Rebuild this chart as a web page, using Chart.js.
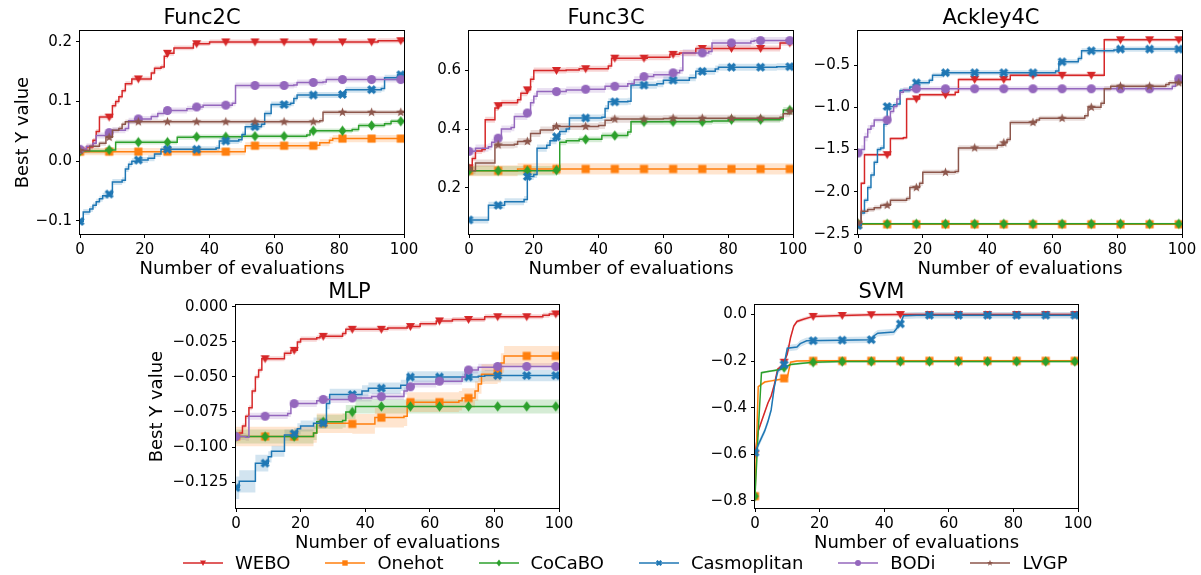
<!DOCTYPE html>
<html>
<head>
<meta charset="utf-8">
<script src="https://cdn.jsdelivr.net/npm/chart.js@4.4.0/dist/chart.umd.min.js"></script>
<style>
  body { margin: 0; background: #fff; width: 1201px; height: 575px; position: relative; overflow: hidden; font-family: "DejaVu Sans", sans-serif; }
  canvas.plot { position: absolute; }
  #legend { position: absolute; left: 183px; top: 551px; display: flex; gap: 35px; font-size: 18px; line-height: 24px; color: #000; }
  .item { display: flex; align-items: center; gap: 12px; }
</style>
</head>
<body>
<canvas id="c0" class="plot"></canvas>
<canvas id="c1" class="plot"></canvas>
<canvas id="c2" class="plot"></canvas>
<canvas id="c3" class="plot"></canvas>
<canvas id="c4" class="plot"></canvas>
<div id="legend"></div>
<script>
// nombres de las series y colores
const seriesNames = ["WEBO", "Onehot", "CoCaBO", "Casmoplitan", "BODi", "LVGP"];
const seriesColors = ["#d62728", "#ff7f0e", "#2ca02c", "#1f77b4", "#9467bd", "#8c564b"];
const seriesMarkers = ["tri", "square", "diamond", "x", "circle", "star"];

// ticks
const xTicks = [0, 20, 40, 60, 80, 100];
const xTickLabels = ["0", "20", "40", "60", "80", "100"];
const markerX = [0, 9, 18, 27, 36, 45, 54, 63, 72, 81, 90, 99];

const func2cYTicks = [-0.1, 0.0, 0.1, 0.2];
const func2cYLabels = ["\u22120.1", "0.0", "0.1", "0.2"];
const func3cYTicks = [0.2, 0.4, 0.6];
const func3cYLabels = ["0.2", "0.4", "0.6"];
const ackleyYTicks = [-2.5, -2.0, -1.5, -1.0, -0.5];
const ackleyYLabels = ["\u22122.5", "\u22122.0", "\u22121.5", "\u22121.0", "\u22120.5"];
const mlpYTicks = [-0.125, -0.100, -0.075, -0.050, -0.025, 0.000];
const mlpYLabels = ["\u22120.125", "\u22120.100", "\u22120.075", "\u22120.050", "\u22120.025", "0.000"];
const svmYTicks = [-0.8, -0.6, -0.4, -0.2, 0.0];
const svmYLabels = ["\u22120.8", "\u22120.6", "\u22120.4", "\u22120.2", "0.0"];

// Func2C: [evaluación, mejor Y] (cambios de escalón)
const func2cWebo = [[0,0.018],[2,0.024],[4,0.035],[5,0.05],[6,0.074],[10,0.093],[11,0.1],[12,0.108],[13,0.118],[14,0.13],[16,0.138],[22,0.148],[23,0.156],[25,0.158],[26,0.176],[27,0.181],[29,0.19],[35,0.197],[40,0.2],[92,0.202]];
const func2cOnehot = [[0,0.016],[51,0.026],[73,0.027],[74,0.031],[77,0.035],[78,0.038]];
const func2cCocabo = [[0,0.017],[8,0.019],[11,0.032],[30,0.04],[35,0.041],[50,0.042],[70,0.044],[71,0.051],[84,0.053],[86,0.06],[94,0.063],[96,0.067]];
const func2cCasmo = [[0,-0.101],[1,-0.085],[3,-0.08],[4,-0.074],[5,-0.068],[6,-0.063],[7,-0.058],[9,-0.055],[10,-0.035],[13,-0.032],[14,-0.013],[15,-0.005],[16,0],[18,0.002],[21,0.005],[23,0.012],[25,0.02],[42,0.022],[43,0.034],[49,0.036],[50,0.045],[51,0.058],[56,0.062],[57,0.08],[59,0.095],[65,0.097],[66,0.105],[67,0.111],[80,0.112],[82,0.12],[93,0.122],[94,0.14],[98,0.145]];
const func2cBodi = [[0,0.02],[2,0.025],[4,0.03],[5,0.043],[8,0.048],[10,0.052],[14,0.055],[15,0.068],[17,0.071],[22,0.075],[24,0.08],[26,0.085],[33,0.088],[35,0.091],[38,0.094],[47,0.097],[48,0.127],[66,0.128],[67,0.132],[75,0.133],[76,0.137]];
const func2cLvgp = [[0,0.018],[3,0.025],[6,0.03],[8,0.04],[10,0.052],[12,0.055],[13,0.062],[14,0.066],[74,0.068],[75,0.082]];
const func2cBand = [0.004, 0.006, 0.004, 0.005, 0.005, 0.004];

// Func3C
const func3cWebo = [[0,0.268],[1,0.3],[2,0.325],[4,0.33],[5,0.432],[8,0.472],[9,0.48],[10,0.49],[15,0.5],[16,0.522],[18,0.534],[19,0.57],[20,0.6],[30,0.602],[34,0.606],[43,0.615],[44,0.642],[55,0.645],[62,0.655],[65,0.66],[70,0.675],[96,0.694]];
const func3cOnehot = [[0,0.258],[15,0.264]];
const func3cCocabo = [[0,0.258,0.016],[27,0.26,0.016],[28,0.355],[30,0.36],[34,0.365],[41,0.378],[49,0.39],[50,0.425],[75,0.428],[80,0.432],[96,0.435],[97,0.465]];
const func3cCasmo = [[0,0.09],[6,0.14],[11,0.152],[17,0.16],[18,0.238],[20,0.245],[21,0.335],[24,0.345],[25,0.36],[27,0.374],[28,0.392],[30,0.4],[31,0.438],[41,0.44],[42,0.47],[43,0.493],[49,0.495],[50,0.55],[58,0.555],[60,0.567],[68,0.575],[70,0.597],[76,0.605],[77,0.611],[95,0.613]];
const func3cBodi = [[0,0.324],[2,0.335],[6,0.34],[7,0.355],[8,0.369],[10,0.4],[13,0.405],[14,0.443],[18,0.455],[19,0.49],[20,0.512],[21,0.528],[30,0.533],[36,0.536],[42,0.546],[49,0.555],[51,0.568],[53,0.579],[57,0.585],[63,0.592],[65,0.6],[66,0.66],[74,0.665],[75,0.694],[87,0.7],[88,0.702]];
const func3cLvgp = [[0,0.267],[1,0.258],[2,0.284],[8,0.346],[14,0.348],[15,0.358],[19,0.385],[22,0.397],[26,0.409],[40,0.412],[42,0.43],[44,0.434],[60,0.436],[63,0.437],[96,0.44],[97,0.452],[99,0.461]];
const func3cBand = [0.01, 0.019, 0.01, 0.012, 0.012, 0.012];

// Ackley4C
const ackleyWebo = [[0,-2.39],[1,-1.9],[2,-1.56],[10,-1.37],[14,-1.36],[15,-0.9],[19,-0.85],[30,-0.82],[31,-0.67],[47,-0.62],[75,-0.62],[76,-0.2]];
const ackleyOnehot = [[0,-2.385]];
const ackleyCocabo = [[0,-2.38]];
const ackleyCasmo = [[0,-2.4],[1,-2.25],[2,-2.1],[3,-1.95],[4,-1.8],[5,-1.65],[6,-1.5],[7,-1.48],[8,-1.2],[9,-0.99],[11,-0.97],[12,-0.96],[13,-0.8],[16,-0.76],[18,-0.71],[22,-0.68],[23,-0.62],[26,-0.59],[61,-0.57],[62,-0.46],[68,-0.42],[69,-0.33],[79,-0.32],[80,-0.31]];
const ackleyBodi = [[0,-1.54,0.05],[1,-1.5,0.05],[2,-1.35,0.05],[3,-1.26,0.05],[4,-1.22,0.04],[5,-1.15],[9,-1.15],[10,-1.05],[11,-0.99],[12,-0.9],[13,-0.82],[14,-0.79],[17,-0.78],[97,-0.75],[98,-0.66]];
const ackleyLvgp = [[0,-2.37],[1,-2.23],[3,-2.21],[5,-2.19],[7,-2.16],[10,-2.1],[15,-2.08],[16,-1.95],[19,-1.9],[20,-1.77],[30,-1.76],[31,-1.48],[43,-1.45],[45,-1.42],[46,-1.38],[47,-1.18],[55,-1.15],[56,-1.13],[70,-1.1],[71,-1.0],[75,-0.95],[76,-0.78],[78,-0.75],[95,-0.73],[96,-0.71]];
const ackleyBand = [0.02, 0.01, 0.012, 0.03, 0.03, 0.03];

// MLP
const mlpWebo = [[0,-0.0925],[1,-0.09],[2,-0.085],[3,-0.078],[4,-0.072],[5,-0.06],[6,-0.05],[7,-0.045],[8,-0.037],[15,-0.033],[17,-0.031],[19,-0.025],[20,-0.023],[25,-0.022],[26,-0.021],[33,-0.019],[34,-0.016],[47,-0.015],[53,-0.014],[57,-0.012],[62,-0.01],[67,-0.009],[77,-0.007],[95,-0.006],[97,-0.005]];
const mlpOnehot = [[0,-0.0925],[24,-0.09],[25,-0.083],[36,-0.0835],[43,-0.079],[52,-0.078],[53,-0.068],[69,-0.067],[70,-0.065],[74,-0.06],[75,-0.055],[76,-0.048],[81,-0.047],[82,-0.04],[83,-0.035]];
const mlpCocabo = [[0,-0.0925],[24,-0.09],[25,-0.082],[33,-0.081],[34,-0.075],[37,-0.071]];
const mlpCasmo = [[0,-0.129,0.008],[1,-0.1245,0.008],[6,-0.1115,0.006],[10,-0.107],[11,-0.103],[15,-0.0915],[18,-0.0905],[19,-0.087],[20,-0.085],[24,-0.083],[28,-0.069],[29,-0.0625],[39,-0.06],[41,-0.058],[51,-0.056],[53,-0.05],[75,-0.0495],[77,-0.049]];
const mlpBodi = [[0,-0.0925],[3,-0.093],[4,-0.078],[10,-0.0775],[16,-0.076],[17,-0.069],[25,-0.067],[27,-0.066],[35,-0.065],[42,-0.064],[52,-0.06],[53,-0.057],[55,-0.055],[62,-0.053],[70,-0.05],[71,-0.045],[75,-0.043],[80,-0.0425]];
const mlpBand = [0.0018, 0.007, 0.005, 0.004, 0.0025];

// SVM (curvas continuas)
const svmWebo = [[0,-0.6],[1,-0.5],[2,-0.46],[3,-0.42],[4,-0.38],[5,-0.35],[6,-0.3],[7,-0.235],[8,-0.225],[9,-0.205],[10,-0.17],[11,-0.1],[12,-0.05],[13,-0.03],[15,-0.02],[18,-0.008],[27,-0.004],[36,-0.001],[45,0]];
const svmOnehot = [[0,-0.78],[1,-0.31],[2,-0.3],[3,-0.29],[5,-0.285],[8,-0.278],[10,-0.27],[11,-0.205],[13,-0.2],[18,-0.199]];
const svmCocabo = [[0,-0.78],[1,-0.5],[2,-0.25],[4,-0.245],[6,-0.24],[8,-0.235],[9,-0.228],[11,-0.215],[14,-0.21],[18,-0.205],[27,-0.202]];
const svmCasmo = [[0,-0.593],[1,-0.56],[2,-0.53],[3,-0.5],[4,-0.46],[5,-0.41],[6,-0.31],[7,-0.245],[8,-0.23],[9,-0.215],[10,-0.145],[13,-0.14],[14,-0.125],[16,-0.113],[36,-0.108],[37,-0.09],[38,-0.08],[43,-0.075],[45,-0.04],[46,-0.005],[50,-0.003]];
const svmBand = [0.008, 0.005, 0.005, 0.014];

// ---------------------------------------------------------------
Chart.defaults.font.family = "'DejaVu Sans', sans-serif";
Chart.defaults.color = "#000";

function rgba(hex, a) {
  const n = parseInt(hex.slice(1), 16);
  return `rgba(${n >> 16},${(n >> 8) & 255},${n & 255},${a})`;
}

function drawMarker(ctx, style, cx, cy, s, color) {
  const h = s / 2;
  ctx.fillStyle = color;
  ctx.strokeStyle = color;
  ctx.beginPath();
  if (style === "tri") {
    ctx.moveTo(cx - h, cy - h * 0.8);
    ctx.lineTo(cx + h, cy - h * 0.8);
    ctx.lineTo(cx, cy + h);
    ctx.closePath();
    ctx.fill();
  } else if (style === "square") {
    const q = h * 0.9;
    ctx.rect(cx - q, cy - q, q * 2, q * 2);
    ctx.fill();
  } else if (style === "diamond") {
    ctx.moveTo(cx, cy - h * 1.15);
    ctx.lineTo(cx + h * 0.85, cy);
    ctx.lineTo(cx, cy + h * 1.15);
    ctx.lineTo(cx - h * 0.85, cy);
    ctx.closePath();
    ctx.fill();
  } else if (style === "x") {
    const q = h * 0.75;
    ctx.lineWidth = s * 0.38;
    ctx.moveTo(cx - q, cy - q); ctx.lineTo(cx + q, cy + q);
    ctx.moveTo(cx + q, cy - q); ctx.lineTo(cx - q, cy + q);
    ctx.stroke();
  } else if (style === "circle") {
    ctx.arc(cx, cy, h, 0, Math.PI * 2);
    ctx.fill();
  } else if (style === "star") {
    for (let k = 0; k < 10; k++) {
      const r = k % 2 === 0 ? h * 1.1 : h * 0.45;
      const a = -Math.PI / 2 + k * Math.PI / 5;
      const px = cx + r * Math.cos(a), py = cy + r * Math.sin(a);
      if (k === 0) ctx.moveTo(px, py); else ctx.lineTo(px, py);
    }
    ctx.closePath();
    ctx.fill();
  }
}

function markerImage(style, color, s) {
  const c = document.createElement("canvas");
  c.width = c.height = s + 4;
  drawMarker(c.getContext("2d"), style, (s + 4) / 2, (s + 4) / 2, s, color);
  return c;
}

// valor de la curva en t (escalón o lineal)
function valueAt(pts, t, stepped) {
  let y = pts[0][1];
  for (let i = 0; i < pts.length; i++) {
    if (pts[i][0] > t) {
      if (!stepped && i > 0) {
        const [x0, y0] = pts[i - 1], [x1, y1] = pts[i];
        return y0 + (y1 - y0) * (t - x0) / (x1 - x0);
      }
      break;
    }
    y = pts[i][1];
  }
  return y;
}

const framePlugin = {
  id: "frame",
  afterDatasetsDraw(chart) {
    const { ctx, chartArea: a } = chart;
    ctx.save();
    ctx.strokeStyle = "#000";
    ctx.lineWidth = 1;
    ctx.strokeRect(Math.round(a.left) - 0.5, Math.round(a.top) - 0.5,
                   Math.round(a.right - a.left) + 1, Math.round(a.bottom - a.top) + 1);
    ctx.restore();
  }
};

const panels = [
  { id: "c0", title: "Func2C", area: [80, 31, 404, 234], yw: 80, ymin: -0.122, ymax: 0.218,
    yTicks: func2cYTicks, yLabels: func2cYLabels, yTitlePad: 13, stepped: true,
    series: [func2cWebo, func2cOnehot, func2cCocabo, func2cCasmo, func2cBodi, func2cLvgp], band: func2cBand },
  { id: "c1", title: "Func3C", area: [469, 31, 793, 234], yw: 50, ymin: 0.042, ymax: 0.734,
    yTicks: func3cYTicks, yLabels: func3cYLabels, yTitlePad: null, stepped: true,
    series: [func3cWebo, func3cOnehot, func3cCocabo, func3cCasmo, func3cBodi, func3cLvgp], band: func3cBand },
  { id: "c2", title: "Ackley4C", area: [858, 31, 1182, 234], yw: 58, ymin: -2.5, ymax: -0.098,
    yTicks: ackleyYTicks, yLabels: ackleyYLabels, yTitlePad: null, stepped: true,
    series: [ackleyWebo, ackleyOnehot, ackleyCocabo, ackleyCasmo, ackleyBodi, ackleyLvgp], band: ackleyBand },
  { id: "c3", title: "MLP", area: [236, 305, 559, 508], yw: 96, ymin: -0.1435, ymax: 0.0012,
    yTicks: mlpYTicks, yLabels: mlpYLabels, yTitlePad: 7, stepped: true,
    series: [mlpWebo, mlpOnehot, mlpCocabo, mlpCasmo, mlpBodi], band: mlpBand },
  { id: "c4", title: "SVM", area: [755, 305, 1078, 508], yw: 70, ymin: -0.831, ymax: 0.04,
    yTicks: svmYTicks, yLabels: svmYLabels, yTitlePad: null, stepped: false,
    series: [svmWebo, svmOnehot, svmCocabo, svmCasmo], band: svmBand }
];

const TITLE_H = 31, XAXIS_H = 46, PAD_R = 20;

panels.forEach(p => {
  const [l, t, r, b] = p.area;
  const canvas = document.getElementById(p.id);
  canvas.width = p.yw + (r - l) + PAD_R;
  canvas.height = TITLE_H + (b - t) + XAXIS_H;
  canvas.style.left = (l - p.yw) + "px";
  canvas.style.top = (t - TITLE_H) + "px";

  const datasets = [];
  p.series.forEach((pts, i) => {
    const color = seriesColors[i];
    const e0 = p.band[i];
    const line = pts.map(q => [q[0], q[1]]);
    if (line[line.length - 1][0] < 100) line.push([100, line[line.length - 1][1]]);
    const ext = pts.map(q => q[2] !== undefined ? q[2] : e0);
    ext.push(ext[ext.length - 1]);
    const upper = line.map((q, k) => [q[0], q[1] + ext[k]]);
    const lower = line.map((q, k) => [q[0], q[1] - ext[k]]);
    const marks = markerX.map(x => [x, valueAt(pts, x, p.stepped)]);
    datasets.push({ data: upper, borderWidth: 0, pointRadius: 0, fill: "+1",
      backgroundColor: rgba(color, 0.2), stepped: p.stepped, order: 100 + i });
    datasets.push({ data: lower, borderWidth: 0, pointRadius: 0, fill: false,
      stepped: p.stepped, order: 100 + i });
    datasets.push({ label: seriesNames[i], data: line, borderColor: color, borderWidth: 1.5,
      pointRadius: 0, fill: false, stepped: p.stepped, order: 50 - 2 * i });
    datasets.push({ data: marks, showLine: false, pointStyle: markerImage(seriesMarkers[i], color, 9),
      pointRadius: 5, order: 49 - 2 * i });
  });

  new Chart(canvas.getContext("2d"), {
    type: "line",
    data: { datasets: datasets },
    plugins: [framePlugin],
    options: {
      responsive: false,
      animation: false,
      layout: { padding: { right: PAD_R } },
      plugins: {
        legend: { display: false },
        tooltip: { enabled: false },
        title: { display: true, text: p.title, font: { size: 21, weight: "normal" },
                 padding: { top: 6, bottom: 0 }, color: "#000" }
      },
      scales: {
        x: {
          type: "linear", min: 0, max: 100,
          afterBuildTicks: s => { s.ticks = xTicks.map(v => ({ value: v })); },
          afterFit: s => { s.height = XAXIS_H; },
          ticks: { autoSkip: false, maxRotation: 0, padding: 3, font: { size: 15 },
                   callback: (v, k) => xTickLabels[k] },
          grid: { drawOnChartArea: false, drawTicks: true, tickLength: 4, color: "#000" },
          border: { display: false },
          title: { display: true, text: "Number of evaluations", font: { size: 18 },
                   padding: { top: 0, bottom: 0 } }
        },
        y: {
          type: "linear", min: p.ymin, max: p.ymax,
          afterBuildTicks: s => { s.ticks = p.yTicks.map(v => ({ value: v })); },
          afterFit: s => { s.width = p.yw; },
          ticks: { autoSkip: false, padding: 4, font: { size: 15 },
                   callback: (v, k) => p.yLabels[k] },
          grid: { drawOnChartArea: false, drawTicks: true, tickLength: 4, color: "#000" },
          border: { display: false },
          title: { display: p.yTitlePad !== null, text: "Best Y value", font: { size: 18 },
                   padding: { top: p.yTitlePad || 0, bottom: 0 } }
        }
      }
    }
  });
});

// leyenda común
const legend = document.getElementById("legend");
seriesNames.forEach((name, i) => {
  const item = document.createElement("div");
  item.className = "item";
  const icon = document.createElement("canvas");
  icon.width = 40; icon.height = 14;
  const g = icon.getContext("2d");
  g.strokeStyle = seriesColors[i];
  g.lineWidth = 1.5;
  g.beginPath(); g.moveTo(0, 7); g.lineTo(40, 7); g.stroke();
  drawMarker(g, seriesMarkers[i], 20, 7, 6, seriesColors[i]);
  const label = document.createElement("span");
  label.textContent = name;
  item.appendChild(icon);
  item.appendChild(label);
  legend.appendChild(item);
});
</script>
</body>
</html>
